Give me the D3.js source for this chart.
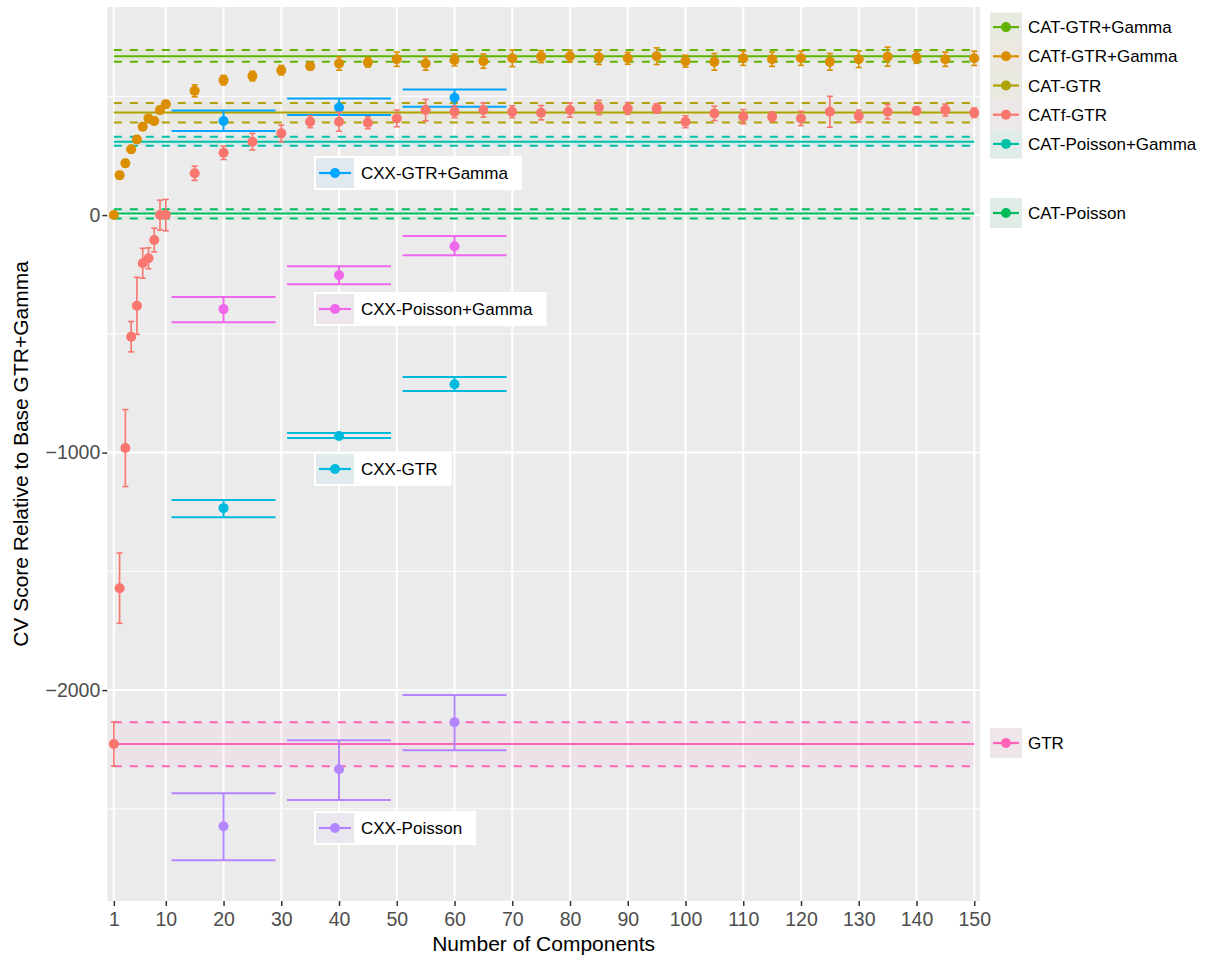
<!DOCTYPE html>
<html>
<head>
<meta charset="utf-8">
<script src="https://cdn.jsdelivr.net/npm/d3@7"></script>
<style>
	body { margin: 0; background: #fff; }
	svg { font-family: "Liberation Sans", Arial, Helvetica, sans-serif; }
</style>
</head>
<body>
<div id="chart"></div>
<script>
'use strict';

// factor order used for the hue palette (same as ggplot's default)
const factorLevels = ["CATf-GTR", "CATf-GTR+Gamma", "CAT-GTR", "CAT-GTR+Gamma", "CAT-Poisson",
	"CAT-Poisson+Gamma", "CXX-GTR", "CXX-GTR+Gamma", "CXX-Poisson", "CXX-Poisson+Gamma", "GTR"];
const huePalette = ["#F8766D", "#DB8E00", "#AEA200", "#64B200", "#00BD5C",
	"#00C1A7", "#00BADE", "#00A6FF", "#B385FF", "#EF67EB", "#FF63B6"];

// CAT models: mean line with a dashed band
const catModels = ["CAT-GTR+Gamma", "CAT-GTR", "CAT-Poisson+Gamma", "CAT-Poisson", "GTR"];
const catMean = [669, 432, 309, 7, -2227];
const catLow  = [645, 390, 292, -14, -2321];
const catHigh = [695, 472, 330, 24, -2135];

// CATf models, one point per number of components
const compN = [1, 2, 3, 4, 5, 6, 7, 8, 9, 10, 15, 20, 25, 30, 35, 40, 45, 50, 55, 60, 65,
	70, 75, 80, 85, 90, 95, 100, 105, 110, 115, 120, 125, 130, 135, 140, 145, 150];
const catfGammaMean = [0, 168, 218, 277, 318, 372, 407, 396, 442, 467,
	523, 568, 585, 610, 627, 638, 643, 656, 638, 653, 648,
	660, 667, 669, 664, 660, 669, 648, 645, 660, 656, 660, 645, 656, 667, 664, 656, 660];
const catfGammaErr = [6, 15, 15, 15, 15, 15, 15, 15, 15, 15,
	25, 20, 20, 20, 15, 28, 20, 30, 28, 25, 30,
	35, 25, 25, 30, 25, 35, 25, 35, 30, 30, 30, 35, 35, 40, 25, 30, 30];
const catfGtrMean = [-2227, -1571, -981, -512, -382, -203, -182, -105, 0, 0,
	176, 262, 309, 344, 393, 393, 389, 407, 442, 435, 442,
	435, 431, 442, 453, 449, 449, 393, 428, 414, 414, 407, 435, 417, 435, 439, 442, 431];
const catfGtrErr = [93, 148, 162, 64, 120, 63, 44, 50, 63, 66,
	30, 28, 35, 35, 25, 40, 25, 35, 45, 25, 30,
	25, 30, 30, 30, 25, 20, 25, 30, 30, 20, 30, 65, 25, 30, 15, 25, 20];

// CXX models
const cxxN = [20, 40, 60];
const cxxGtrGammaMean = [396, 453, 494];
const cxxGtrGammaLow  = [354, 421, 456];
const cxxGtrGammaHigh = [440, 491, 529];
const cxxPoisGammaMean = [-396, -253, -131];
const cxxPoisGammaLow  = [-451, -291, -169];
const cxxPoisGammaHigh = [-345, -215, -88];
const cxxGtrMean = [-1234, -930, -712];
const cxxGtrLow  = [-1272, -939, -741];
const cxxGtrHigh = [-1200, -918, -682];
const cxxPoisMean = [-2573, -2333, -2135];
const cxxPoisLow  = [-2716, -2463, -2253];
const cxxPoisHigh = [-2434, -2211, -2021];

const xTicks = [1, 10, 20, 30, 40, 50, 60, 70, 80, 90, 100, 110, 120, 130, 140, 150];
const yTicks = [0, -1000, -2000];
const yMinor = [500, -500, -1500, -2500];

const legendMain = ["CAT-GTR+Gamma", "CATf-GTR+Gamma", "CAT-GTR", "CATf-GTR", "CAT-Poisson+Gamma"];

// ---- layout ----
const W = 1207, H = 957;
const panel = { left: 107.3, right: 980, top: 7, bottom: 901 };
const ptR = 5;

const x = d3.scaleLinear().domain([-0.13, 151]).range([panel.left, panel.right]);
const y = d3.scaleLinear().domain([-2888, 876]).range([panel.bottom, panel.top]);
const colour = d3.scaleOrdinal().domain(factorLevels).range(huePalette);

const svg = d3.select("#chart").append("svg")
	.attr("width", W).attr("height", H);

// panel + grid
svg.append("rect")
	.attr("x", panel.left).attr("y", panel.top)
	.attr("width", panel.right - panel.left).attr("height", panel.bottom - panel.top)
	.attr("fill", "#EBEBEB");

const grid = svg.append("g").attr("class", "grid").attr("stroke", "#fff");
grid.selectAll(".minor").data(yMinor).join("line")
	.attr("x1", panel.left).attr("x2", panel.right)
	.attr("y1", d => y(d)).attr("y2", d => y(d))
	.attr("stroke-width", 1);
grid.selectAll(".major-y").data(yTicks).join("line")
	.attr("x1", panel.left).attr("x2", panel.right)
	.attr("y1", d => y(d)).attr("y2", d => y(d))
	.attr("stroke-width", 2);
grid.selectAll(".major-x").data(xTicks).join("line")
	.attr("x1", d => x(d)).attr("x2", d => x(d))
	.attr("y1", panel.top).attr("y2", panel.bottom)
	.attr("stroke-width", 2);

// CAT bands
const catRows = catModels.map((m, i) => ({ model: m, mean: catMean[i], lo: catLow[i], hi: catHigh[i] }));
const gCat = svg.append("g").attr("class", "cat");
gCat.selectAll("rect").data(catRows).join("rect")
	.attr("x", x(1)).attr("width", x(150) - x(1))
	.attr("y", d => y(d.hi)).attr("height", d => y(d.lo) - y(d.hi))
	.attr("fill", d => colour(d.model)).attr("fill-opacity", 0.055);

catRows.forEach(d => {
	[["mean", null], ["lo", "8,8"], ["hi", "8,8"]].forEach(([k, dash]) => {
		gCat.append("line")
			.attr("x1", x(1)).attr("x2", x(150))
			.attr("y1", y(d[k])).attr("y2", y(d[k]))
			.attr("stroke", colour(d.model)).attr("stroke-width", 2)
			.attr("stroke-dasharray", dash);
	});
});

// CXX error bars
const cxxRows = [];
[["CXX-GTR+Gamma", cxxGtrGammaMean, cxxGtrGammaLow, cxxGtrGammaHigh],
 ["CXX-Poisson+Gamma", cxxPoisGammaMean, cxxPoisGammaLow, cxxPoisGammaHigh],
 ["CXX-GTR", cxxGtrMean, cxxGtrLow, cxxGtrHigh],
 ["CXX-Poisson", cxxPoisMean, cxxPoisLow, cxxPoisHigh]].forEach(([m, mean, lo, hi]) => {
	cxxN.forEach((n, i) => cxxRows.push({ model: m, n: n, mean: mean[i], lo: lo[i], hi: hi[i] }));
});

const gCxx = svg.append("g").attr("class", "cxx").attr("stroke-width", 2);
cxxRows.forEach(d => {
	const c = colour(d.model);
	gCxx.append("line").attr("x1", x(d.n)).attr("x2", x(d.n))
		.attr("y1", y(d.hi)).attr("y2", y(d.lo)).attr("stroke", c);
	[d.lo, d.hi].forEach(v => {
		gCxx.append("line").attr("x1", x(d.n - 9)).attr("x2", x(d.n + 9))
			.attr("y1", y(v)).attr("y2", y(v)).attr("stroke", c);
	});
	gCxx.append("circle").attr("cx", x(d.n)).attr("cy", y(d.mean)).attr("r", ptR).attr("fill", c);
});

// CATf points
const catfRows = [];
compN.forEach((n, i) => {
	catfRows.push({ model: "CATf-GTR", n: n, mean: catfGtrMean[i], err: catfGtrErr[i] });
	catfRows.push({ model: "CATf-GTR+Gamma", n: n, mean: catfGammaMean[i], err: catfGammaErr[i] });
});

const gPts = svg.append("g").attr("class", "catf").attr("stroke-width", 1.6);
catfRows.forEach(d => {
	const c = colour(d.model), cx = x(d.n);
	const y0 = y(d.mean + d.err), y1 = y(d.mean - d.err);
	gPts.append("line").attr("x1", cx).attr("x2", cx).attr("y1", y0).attr("y2", y1).attr("stroke", c);
	[y0, y1].forEach(v => gPts.append("line")
		.attr("x1", cx - 3).attr("x2", cx + 3).attr("y1", v).attr("y2", v).attr("stroke", c));
	gPts.append("circle").attr("cx", cx).attr("cy", y(d.mean)).attr("r", ptR).attr("fill", c);
});

// axes
const xAxis = svg.append("g")
	.attr("transform", `translate(0,${panel.bottom})`)
	.call(d3.axisBottom(x).tickValues(xTicks).tickSize(5).tickPadding(6));
const yAxis = svg.append("g")
	.attr("transform", `translate(${panel.left},0)`)
	.call(d3.axisLeft(y).tickValues(yTicks).tickFormat(d3.format("d")).tickSize(5).tickPadding(2));

[xAxis, yAxis].forEach(a => {
	a.select(".domain").remove();
	a.selectAll(".tick line").attr("stroke", "#333").attr("stroke-width", 1.5);
	a.selectAll(".tick text").attr("fill", "#4D4D4D")
		.style("font-size", "19.5px").style("font-family", "Liberation Sans, Arial, sans-serif");
});

svg.append("text")
	.attr("x", (panel.left + panel.right) / 2).attr("y", 951)
	.attr("text-anchor", "middle").style("font-size", "21px")
	.text("Number of Components");

svg.append("text")
	.attr("transform", `translate(28,${(panel.top + panel.bottom) / 2}) rotate(-90)`)
	.attr("text-anchor", "middle").style("font-size", "21px")
	.text("CV Score Relative to Base GTR+Gamma");

// legend key: grey box, tinted, line + point
function drawKey(g, model, kx, cy, kw, kh) {
	const c = colour(model);
	g.append("rect").attr("x", kx).attr("y", cy - kh / 2).attr("width", kw).attr("height", kh).attr("fill", "#EEEEEE");
	g.append("rect").attr("x", kx).attr("y", cy - kh / 2).attr("width", kw).attr("height", kh)
		.attr("fill", c).attr("fill-opacity", 0.05);
	g.append("line").attr("x1", kx + 3).attr("x2", kx + kw - 3).attr("y1", cy).attr("y2", cy)
		.attr("stroke", c).attr("stroke-width", 2.2);
	g.append("circle").attr("cx", kx + kw / 2).attr("cy", cy).attr("r", ptR).attr("fill", c);
}

const gLeg = svg.append("g").attr("class", "legend").style("font-size", "17px");
legendMain.forEach((m, i) => {
	const cy = 12.5 + 14.6 + i * 29.2;
	drawKey(gLeg, m, 990, cy, 32, 29.2);
	gLeg.append("text").attr("x", 1028).attr("y", cy).attr("dy", "0.36em").text(m);
});
[["CAT-Poisson", 213], ["GTR", 743]].forEach(([m, cy]) => {
	drawKey(gLeg, m, 990, cy, 32, 30);
	gLeg.append("text").attr("x", 1028).attr("y", cy).attr("dy", "0.36em").text(m);
});

// in-panel labels for CXX models
[["CXX-GTR+Gamma", 173], ["CXX-Poisson+Gamma", 309], ["CXX-GTR", 469], ["CXX-Poisson", 828]].forEach(([m, cy]) => {
	const g = svg.append("g").attr("class", "cxx-label").style("font-size", "17px");
	const box = g.append("rect").attr("x", 314).attr("y", cy - 17).attr("height", 34).attr("fill", "#fff");
	drawKey(g, m, 316, cy, 38, 30);
	const t = g.append("text").attr("x", 361).attr("y", cy).attr("dy", "0.36em").text(m);
	box.attr("width", 361 - 314 + t.node().getComputedTextLength() + 14);
});
</script>
</body>
</html>
